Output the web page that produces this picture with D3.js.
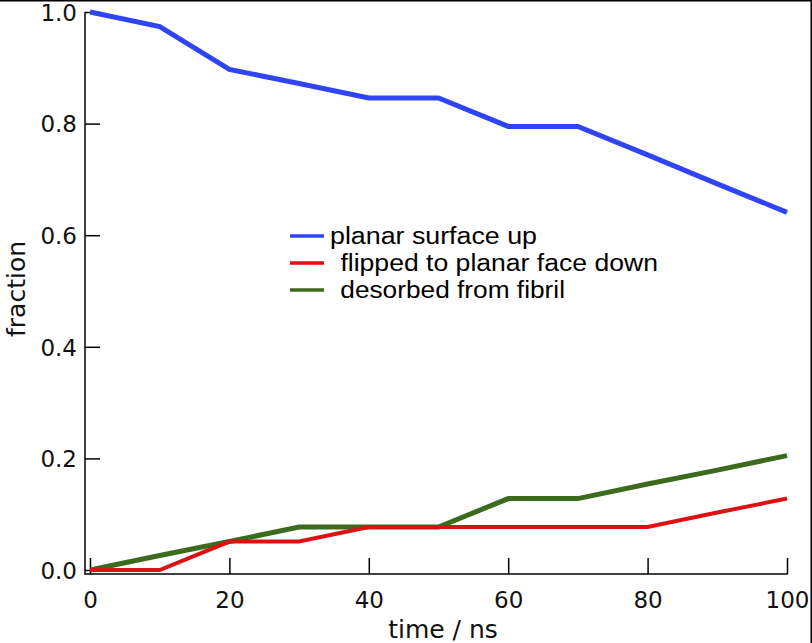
<!DOCTYPE html>
<html>
<head>
<meta charset="utf-8">
<script src="https://cdn.jsdelivr.net/npm/d3@7"></script>
<style>
  html, body { margin: 0; padding: 0; background: #fff; }
  svg { display: block; }
</style>
</head>
<body>
<svg id="chart" width="812" height="643"></svg>
<script>
// ---- data ----
const times = [0, 10, 20, 30, 40, 50, 60, 70, 80, 90, 100];
const planarUp = [1.0, 0.974, 0.897, 0.872, 0.846, 0.846, 0.795, 0.795, 0.744, 0.692, 0.641];
const flippedDown = [0.0, 0.0, 0.051, 0.051, 0.077, 0.077, 0.077, 0.077, 0.077, 0.103, 0.128];
const desorbed = [0.0, 0.026, 0.051, 0.077, 0.077, 0.077, 0.128, 0.128, 0.154, 0.179, 0.205];
const seriesNames = ["planar surface up", " flipped to planar face down", " desorbed from fibril"];
const xTicks = [0, 20, 40, 60, 80, 100];
const yTicks = [0.0, 0.2, 0.4, 0.6, 0.8, 1.0];
const xLabel = "time / ns";
const yLabel = "fraction";

// ---- layout ----
const svg = d3.select("#chart");
const x = d3.scaleLinear().domain([0, 100]).range([90, 787]);
const y = d3.scaleLinear().domain([0, 1]).range([570, 12]);
const axisX = 85, axisY = 574;

const colors = ["#2f44f4", "#dc1212", "#3c6a1f"];
const widths = [5, 4, 5];
const series = [planarUp, flippedDown, desorbed];

// frame edges
svg.append("rect").attr("x", 0).attr("y", 0).attr("width", 812).attr("height", 1.5).attr("fill", "#000");
svg.append("rect").attr("x", 810.5).attr("y", 0).attr("width", 1.5).attr("height", 643).attr("fill", "#000");

// axes
const gy = svg.append("g").attr("transform", `translate(${axisX},0)`)
  .call(d3.axisLeft(y).tickValues(yTicks).tickFormat(d3.format(".1f"))
    .tickSizeInner(-15).tickSizeOuter(0).tickPadding(8));
gy.select(".domain").remove();
gy.selectAll(".tick line").attr("stroke", "#000").attr("stroke-width", 1.5);
gy.selectAll(".tick text").attr("font-family", "DejaVu Sans").attr("font-size", 23).attr("fill", "#111").attr("dy", "0.36em");

const gx = svg.append("g").attr("transform", `translate(0,${axisY})`)
  .call(d3.axisBottom(x).tickValues(xTicks).tickFormat(d3.format("d"))
    .tickSizeInner(-16).tickSizeOuter(0).tickPadding(0));
gx.select(".domain").remove();
gx.selectAll(".tick line").attr("stroke", "#000").attr("stroke-width", 1.5);
gx.selectAll(".tick text").attr("font-family", "DejaVu Sans").attr("font-size", 23).attr("fill", "#111")
  .attr("dy", null).attr("y", 34);

svg.append("line").attr("x1", axisX).attr("x2", axisX).attr("y1", y(1)).attr("y2", axisY + 0.75)
  .attr("stroke", "#000").attr("stroke-width", 1.5);
svg.append("line").attr("x1", axisX).attr("x2", x(100) + 0.75).attr("y1", axisY).attr("y2", axisY)
  .attr("stroke", "#000").attr("stroke-width", 1.5);

// axis labels
svg.append("text").attr("x", 443).attr("y", 638).attr("text-anchor", "middle")
  .attr("font-family", "DejaVu Sans").attr("font-size", 25).attr("fill", "#111").text(xLabel);
svg.append("text").attr("transform", "translate(25,289) rotate(-90)").attr("text-anchor", "middle")
  .attr("font-family", "DejaVu Sans").attr("font-size", 25).attr("fill", "#111").text(yLabel);

// lines
const line = d3.line().x((d, i) => x(times[i])).y(d => y(d));
[2, 1, 0].forEach(k => {
  svg.append("path").datum(series[k]).attr("d", line)
    .attr("fill", "none").attr("stroke", colors[k]).attr("stroke-width", widths[k])
    .attr("stroke-linejoin", "miter").attr("stroke-linecap", "butt");
});

// legend
const legendLens = [207, 320, 227];
const legendTextX = [330, 333, 333];
seriesNames.forEach((name, i) => {
  const cy = 236 + i * 27;
  svg.append("line").attr("x1", 290).attr("x2", 324).attr("y1", cy).attr("y2", cy)
    .attr("stroke", colors[i]).attr("stroke-width", 3.5);
  svg.append("text").attr("x", legendTextX[i]).attr("y", cy + 7.5)
    .attr("font-family", "Liberation Sans, Arial, sans-serif").attr("font-size", 23).attr("fill", "#000")
    .attr("xml:space", "preserve").style("white-space", "pre")
    .attr("textLength", legendLens[i] + (i > 0 ? 5 : 0)).attr("lengthAdjust", "spacingAndGlyphs")
    .text(name);
});
</script>
</body>
</html>
